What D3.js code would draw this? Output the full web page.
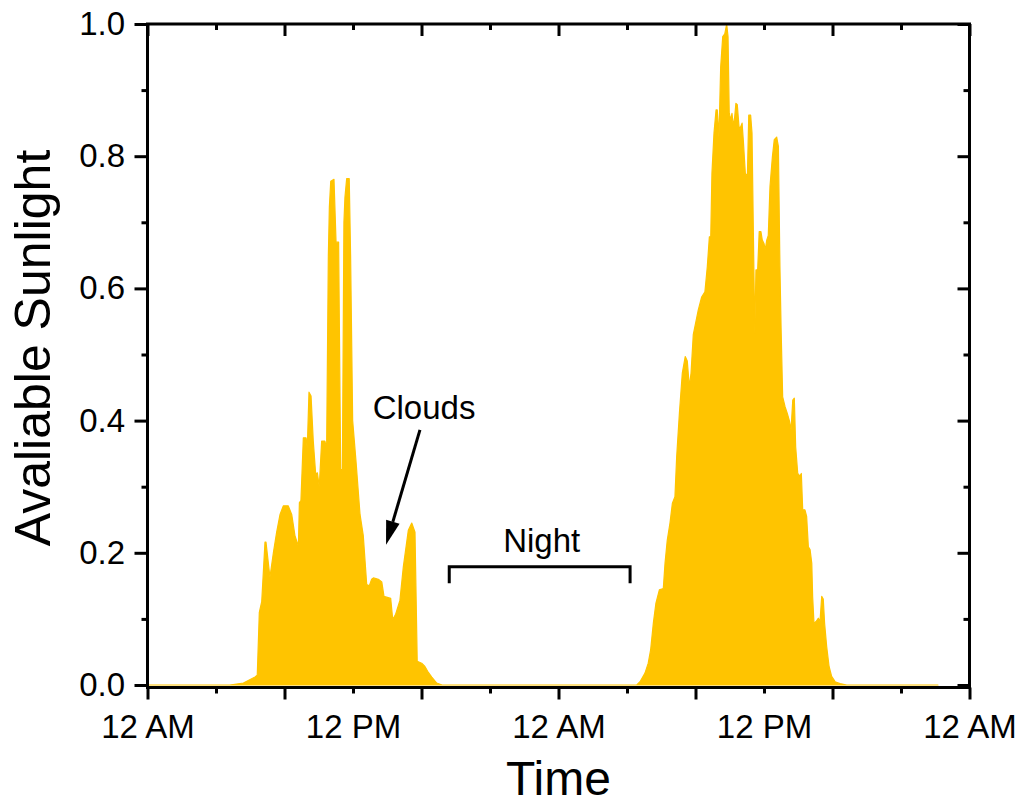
<!DOCTYPE html>
<html>
<head>
<meta charset="utf-8">
<script src="https://cdn.jsdelivr.net/npm/d3@7/dist/d3.min.js"></script>
<style>
  html, body { margin: 0; padding: 0; background: #ffffff; }
  svg { display: block; }
  text { font-family: "Liberation Sans", Arial, Helvetica, sans-serif; fill: #000; }
</style>
</head>
<body>
<script>
// ---- data (hours since first midnight, available sunlight fraction) ----
const hours = [
  0, 4.8, 5.6, 6.28, 6.41, 6.53, 6.67, 6.86, 6.92, 7.15, 7.35, 7.54, 7.74, 7.93, 8.22, 8.42, 8.61, 8.81, 8.87, 8.96,
  9.10, 9.26, 9.33, 9.43, 9.55, 9.68, 9.82, 9.92, 10.03, 10.17, 10.36, 10.46, 10.56, 10.62, 10.70, 10.89, 11.01, 11.16,
  11.28, 11.38, 11.47, 11.53, 11.63, 11.78, 11.86, 11.98, 12.18, 12.41, 12.60, 12.80, 12.95, 13.09, 13.19, 13.48, 13.68,
  13.81, 14.20, 14.32, 14.49, 14.74, 14.94, 15.23, 15.43, 15.62, 15.75, 16.01, 16.20, 16.40, 16.60, 16.89, 17.2,
  28.2, 28.57, 28.76, 29.05, 29.24, 29.38, 29.54, 29.69, 29.89, 30.12, 30.22, 30.35, 30.51, 30.65, 30.80, 30.90, 31.06,
  31.23, 31.40, 31.52, 31.64, 31.74, 31.87, 32.16, 32.36, 32.55, 32.69, 32.81, 32.89, 32.96, 33.08, 33.20, 33.27, 33.37,
  33.47, 33.59, 33.71, 33.82, 33.90, 33.97, 34.06, 34.13, 34.21, 34.29, 34.36, 34.44, 34.54, 34.60, 34.72, 34.79, 34.91,
  35.03, 35.11, 35.22, 35.30, 35.38, 35.46, 35.53, 35.63, 35.72, 35.82, 35.90, 36.00, 36.07, 36.16, 36.25, 36.35, 36.49,
  36.60, 36.74, 36.84, 36.93, 37.0, 37.09, 37.23, 37.36, 37.48, 37.58, 37.68, 37.77, 37.85, 37.97, 38.10, 38.18, 38.26,
  38.39, 38.49, 38.59, 38.69, 38.79, 38.84, 38.92, 39.04, 39.17, 39.27, 39.37, 39.46, 39.54, 39.66, 39.80, 39.95, 40.15,
  40.44, 40.83, 46.16
];
const sunlight = [
  0, 0, 0.003, 0.012, 0.015, 0.11, 0.126, 0.216, 0.216, 0.163, 0.2, 0.231, 0.258, 0.271, 0.271, 0.258, 0.226, 0.21, 0.276, 0.279,
  0.374, 0.374, 0.358, 0.443, 0.437, 0.369, 0.319, 0.321, 0.30, 0.369, 0.369, 0.358, 0.649, 0.723, 0.762, 0.765, 0.67, 0.67,
  0.326, 0.326, 0.70, 0.738, 0.766, 0.766, 0.649, 0.40, 0.337, 0.258, 0.226, 0.152, 0.15, 0.16, 0.162, 0.16, 0.156,
  0.134, 0.131, 0.099, 0.107, 0.128, 0.179, 0.234, 0.245, 0.231, 0.036, 0.033, 0.028, 0.019, 0.012, 0.003, 0,
  0, 0, 0.005, 0.018, 0.033, 0.053, 0.094, 0.124, 0.144, 0.146, 0.184, 0.219, 0.245, 0.275, 0.285, 0.345, 0.411,
  0.472, 0.497, 0.49, 0.451, 0.472, 0.53, 0.567, 0.587, 0.595, 0.633, 0.678, 0.678, 0.774, 0.835, 0.87, 0.87, 0.829,
  0.935, 0.981, 0.985, 1.0, 0.981, 0.865, 0.855, 0.865, 0.845, 0.86, 0.88, 0.878, 0.845, 0.842, 0.85, 0.825, 0.774,
  0.77, 0.862, 0.862, 0.835, 0.683, 0.532, 0.628, 0.628, 0.686, 0.686, 0.673, 0.668, 0.658, 0.673, 0.68, 0.754, 0.799,
  0.825, 0.829, 0.815, 0.633, 0.537, 0.436, 0.421, 0.411, 0.40, 0.386, 0.431, 0.434, 0.36, 0.32, 0.316, 0.32, 0.265,
  0.265, 0.255, 0.209, 0.205, 0.184, 0.134, 0.093, 0.096, 0.101, 0.096, 0.134, 0.13, 0.093, 0.058, 0.028, 0.013, 0.005,
  0.002, 0, 0
];

const xLabelHours = [0, 12, 24, 36, 48];
const xLabels = ["12 AM", "12 PM", "12 AM", "12 PM", "12 AM"];
const xMajorTicks = [0, 8, 16, 24, 32, 40, 48];
const xMinorTicks = [4, 12, 20, 28, 36, 44];
const yMajorTicks = [0, 0.2, 0.4, 0.6, 0.8, 1.0];
const yMinorTicks = [0.1, 0.3, 0.5, 0.7, 0.9];

const xTitle = "Time";
const yTitle = "Avaliable Sunlight";

// annotations in data units
const cloudsText = { label: "Clouds", h: 16.15, v: 0.402 };
const cloudsArrow = { h1: 15.91, v1: 0.386, h2: 13.93, v2: 0.212 };
const nightText = { label: "Night", h: 23.02, v: 0.201 };
const nightBracket = { h1: 17.62, h2: 28.18, v: 0.179, vLeg: 0.154 };

// ---- layout ----
const W = 1023, H = 807;
const pLeft = 147.5, pRight = 969.5, pTop = 24, pBottom = 685;
const axisBottomY = 687.5;
const fillColor = "#FFC400";
const tickFont = "33px";

const svg = d3.select("body").append("svg").attr("width", W).attr("height", H);

const x = d3.scaleLinear().domain([0, 48]).range([pLeft, pRight]);
const y = d3.scaleLinear().domain([0, 1]).range([pBottom, pTop]);

const data = hours.map((h, i) => ({ h, v: sunlight[i] }));

// area
svg.append("path")
  .datum(data)
  .attr("fill", fillColor)
  .attr("stroke", fillColor)
  .attr("stroke-width", 1.2)
  .attr("stroke-linejoin", "round")
  .attr("d", d3.area().x(d => x(d.h)).y0(y(0)).y1(d => y(d.v)));

// axes
function styleAxis(g) {
  g.select(".domain").remove();
  g.selectAll(".tick line").attr("stroke", "#000").attr("stroke-width", 3);
  g.selectAll("text").style("font-size", tickFont).attr("fill", "#000");
}

// bottom major / minor (outward)
svg.append("g").attr("transform", `translate(0,${axisBottomY})`)
  .call(d3.axisBottom(x).tickValues(xMajorTicks).tickSize(12).tickFormat(""))
  .call(styleAxis);
svg.append("g").attr("transform", `translate(0,${axisBottomY})`)
  .call(d3.axisBottom(x).tickValues(xMinorTicks).tickSize(6).tickFormat(""))
  .call(styleAxis);
// bottom labels
svg.append("g").attr("transform", `translate(0,${axisBottomY})`)
  .call(d3.axisBottom(x).tickValues(xLabelHours).tickSize(0).tickPadding(27.5)
    .tickFormat((d, i) => xLabels[i]))
  .call(styleAxis);

// top (inward)
svg.append("g").attr("transform", `translate(0,${pTop})`)
  .call(d3.axisTop(x).tickValues(xMajorTicks).tickSize(-12).tickFormat(""))
  .call(styleAxis);
svg.append("g").attr("transform", `translate(0,${pTop})`)
  .call(d3.axisTop(x).tickValues(xMinorTicks).tickSize(-6).tickFormat(""))
  .call(styleAxis);

// left (outward)
svg.append("g").attr("transform", `translate(${pLeft},0)`)
  .call(d3.axisLeft(y).tickValues(yMajorTicks).tickSize(13).tickPadding(9.5).tickFormat(d3.format(".1f")))
  .call(styleAxis);
svg.append("g").attr("transform", `translate(${pLeft},0)`)
  .call(d3.axisLeft(y).tickValues(yMinorTicks).tickSize(6).tickFormat(""))
  .call(styleAxis);

// right (inward)
svg.append("g").attr("transform", `translate(${pRight},0)`)
  .call(d3.axisRight(y).tickValues(yMajorTicks).tickSize(-12).tickFormat(""))
  .call(styleAxis);
svg.append("g").attr("transform", `translate(${pRight},0)`)
  .call(d3.axisRight(y).tickValues(yMinorTicks).tickSize(-6).tickFormat(""))
  .call(styleAxis);

// frame
svg.append("rect")
  .attr("x", pLeft).attr("y", pTop)
  .attr("width", pRight - pLeft).attr("height", axisBottomY - pTop)
  .attr("fill", "none").attr("stroke", "#000").attr("stroke-width", 3);

// axis titles
svg.append("text")
  .attr("x", (pLeft + pRight) / 2).attr("y", 795)
  .attr("text-anchor", "middle")
  .style("font-size", "48px")
  .text(xTitle);

svg.append("text")
  .attr("transform", `translate(50,348) rotate(-90)`)
  .attr("text-anchor", "middle")
  .style("font-size", "50px")
  .text(yTitle);

// annotations
svg.append("text")
  .attr("x", x(cloudsText.h)).attr("y", y(cloudsText.v))
  .attr("text-anchor", "middle")
  .style("font-size", "33px")
  .text(cloudsText.label);

(function drawArrow() {
  const x1 = x(cloudsArrow.h1), y1 = y(cloudsArrow.v1);
  const x2 = x(cloudsArrow.h2), y2 = y(cloudsArrow.v2);
  const dx = x2 - x1, dy = y2 - y1, len = Math.hypot(dx, dy);
  const ux = dx / len, uy = dy / len;
  const headLen = 24, headHalf = 7;
  const bx = x2 - ux * headLen, by = y2 - uy * headLen;
  svg.append("line")
    .attr("x1", x1).attr("y1", y1).attr("x2", bx).attr("y2", by)
    .attr("stroke", "#000").attr("stroke-width", 3);
  svg.append("polygon")
    .attr("points", [
      [x2, y2],
      [bx - uy * headHalf, by + ux * headHalf],
      [bx + uy * headHalf, by - ux * headHalf]
    ].map(p => p.join(",")).join(" "))
    .attr("fill", "#000");
})();

svg.append("text")
  .attr("x", x(nightText.h)).attr("y", y(nightText.v))
  .attr("text-anchor", "middle")
  .style("font-size", "33px")
  .text(nightText.label);

svg.append("path")
  .attr("d", d3.line()([
    [x(nightBracket.h1), y(nightBracket.vLeg)],
    [x(nightBracket.h1), y(nightBracket.v)],
    [x(nightBracket.h2), y(nightBracket.v)],
    [x(nightBracket.h2), y(nightBracket.vLeg)]
  ]))
  .attr("fill", "none").attr("stroke", "#000").attr("stroke-width", 3);
</script>
</body>
</html>
